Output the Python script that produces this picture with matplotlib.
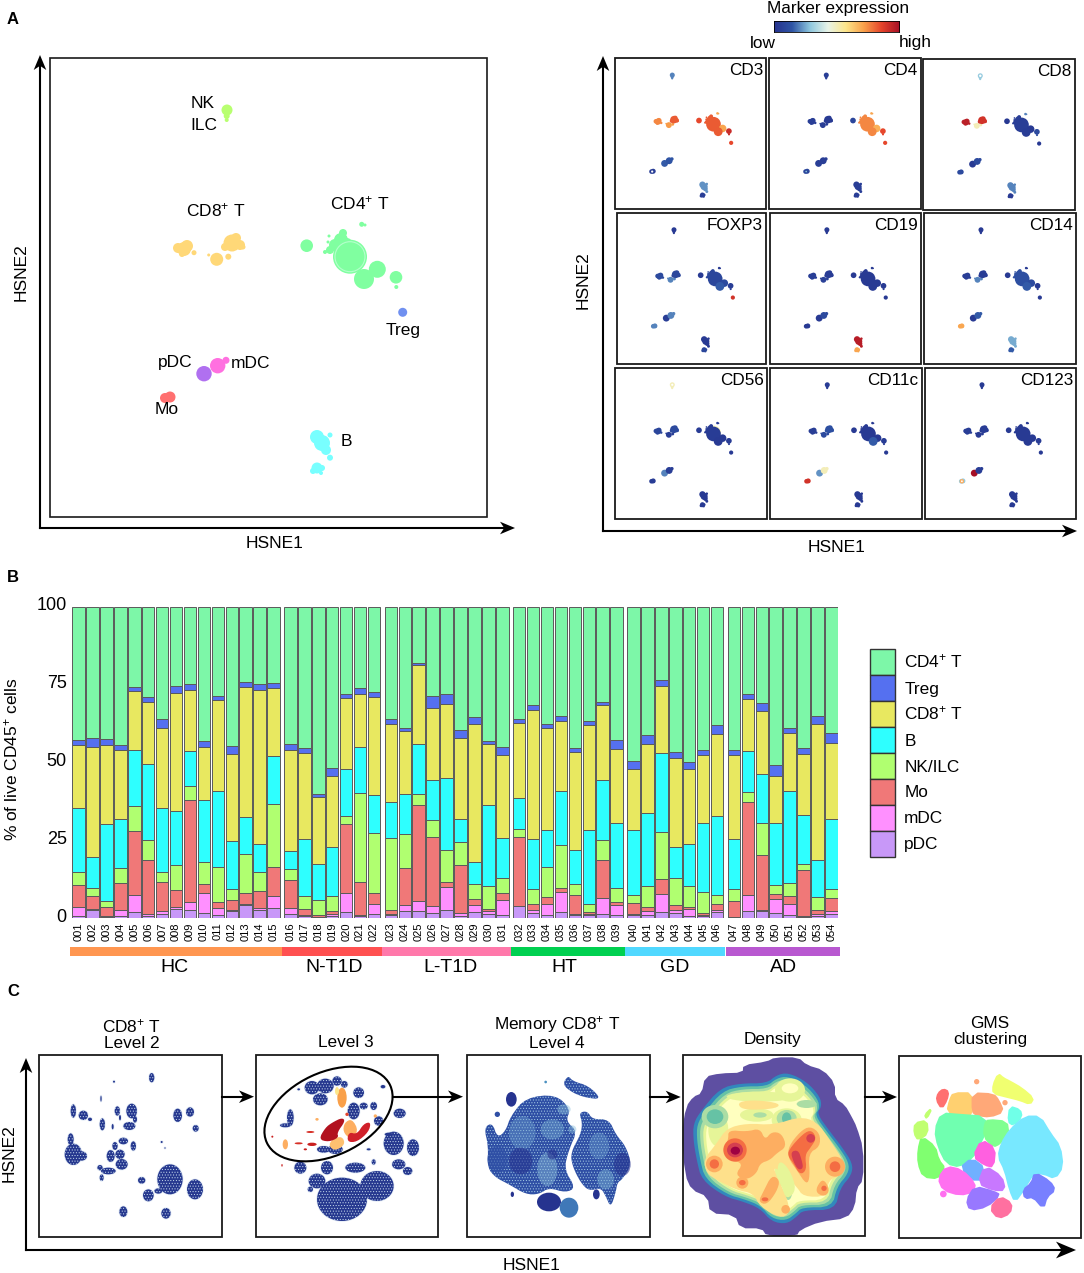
"""Immune cell atlas figure: HSNE maps, composition bars and the CD8 T drill-down."""

import matplotlib

matplotlib.use("Agg")
import matplotlib.pyplot as plt
import numpy as np
from matplotlib.colors import LinearSegmentedColormap
from matplotlib.patches import Circle, Ellipse, Polygon, Rectangle
from matplotlib.transforms import ScaledTranslation

plt.rcParams["font.family"] = ["Liberation Sans", "DejaVu Sans"]
plt.rcParams["mathtext.fontset"] = "custom"
plt.rcParams["mathtext.rm"] = "Liberation Sans"
plt.rcParams["mathtext.default"] = "regular"
plt.rcParams["hatch.linewidth"] = 0.4

WIDTH, HEIGHT = 1084, 1273

# =========================
# Panel A data
# =========================
# blob positions and radii on the big map, in reference pixels
blob_x = [227, 226.7, 226.7, 184, 178, 187, 182, 194, 216.7, 228.3, 208.7, 232, 225, 240, 243, 236,
          306.7, 350, 343, 341, 347, 335, 330, 325, 377.3, 364, 396, 396.3, 361.7, 365, 329, 328,
          402.7, 204, 217.7, 226, 165, 170, 172,
          317, 322, 326, 330, 330, 317, 322, 313, 321]
blob_y = [110, 116, 120, 249, 248, 246, 254, 252.7, 259.3, 256.7, 255, 243, 247, 245, 247, 238,
          245.7, 256.7, 233, 240, 243, 245, 250, 252, 269.3, 279, 277.3, 287, 224.3, 225, 236, 242,
          312.3, 373.7, 365.7, 360.3, 398, 397, 399,
          437, 443, 450, 435, 457.7, 468, 468, 471, 473]
blob_r = [5.5, 3, 2, 7, 5, 6, 3, 2.5, 6.5, 3, 1.5, 8.5, 4, 5, 2.5, 5,
          6.3, 17, 4, 7, 5, 6, 4, 2, 8.5, 10, 6.3, 2, 2.5, 1.5, 1.5, 1.5,
          4.5, 7.7, 7.7, 3.5, 5, 5.5, 2.5,
          7, 8, 5, 2.5, 3, 5.5, 3, 3, 2]
blob_cluster = [0, 0, 0, 1, 1, 1, 1, 1, 3, 3, 3, 2, 2, 2, 2, 2,
                4, 5, 5, 5, 5, 5, 5, 5, 7, 8, 9, 9, 6, 6, 5, 5,
                10, 11, 12, 12, 13, 13, 13,
                14, 14, 14, 14, 14, 15, 15, 15, 15]

cluster_colors = ["#b8ff70", "#ffd878", "#ffd878", "#ffd878", "#80ffa0", "#80ffa0", "#80ffa0", "#80ffa0",
                  "#80ffa0", "#80ffa0", "#7090f0", "#b070f0", "#ff70e0", "#ff7070", "#78ffff", "#78ffff"]

marker_names = ["CD3", "CD4", "CD8", "FOXP3", "CD19", "CD14", "CD56", "CD11c", "CD123"]
# expression per cluster (NK, CD8 x3, CD4 x6, Treg, pDC, mDC, Mo, B x2), 0 low to 1 high
expr_cd3 = [.2, .75, .82, .72, .85, .82, .7, .7, .82, .92, .85, .15, .14, .05, .22, .05]
expr_cd4 = [.05, .05, .03, .05, .08, .75, .7, .68, .75, .85, .85, .05, .05, .08, .05, .04]
expr_cd8 = [.3, .95, .9, .5, .02, .05, .2, .03, .04, .1, .02, .03, .1, .1, .2, .03]
expr_foxp3 = [.03, .1, .08, .2, .03, .08, .03, .1, .15, .05, .9, .05, .2, .2, .03, .08]
expr_cd19 = [.03, .05, .04, .06, .03, .03, .03, .03, .03, .03, .03, .03, .1, .03, .96, .7]
expr_cd14 = [.03, .05, .04, .2, .03, .12, .03, .1, .15, .03, .03, .03, .15, .7, .25, .15]
expr_cd56 = [.5, .08, .1, .05, .04, .04, .04, .03, .03, .04, .03, .2, .05, .04, .03, .03]
expr_cd11c = [.04, .05, .12, .1, .03, .03, .03, .03, .15, .04, .03, .22, .5, .9, .03, .03]
expr_cd123 = [.03, .05, .04, .03, .03, .03, .03, .03, .03, .04, .03, 1.0, .05, .3, .03, .03]
marker_expr = [expr_cd3, expr_cd4, expr_cd8, expr_foxp3, expr_cd19, expr_cd14, expr_cd56, expr_cd11c, expr_cd123]

# halo and hollow spots on single marker maps: panel, x, y on the big map, radius, colour, above blobs
extra_panel = [6, 6, 0, 1, 8, 8, 2]
extra_x = [350, 227, 167, 167, 167, 167, 227]
extra_y = [254, 110, 398, 398, 398, 398, 110]
extra_r = [7.5, 1.1, 1.1, 0.8, 2.2, 0.9, 1.2]
extra_c = ["#fbf6b4", "#ffffff", "#ffffff", "#8ec7de", "#fdae61", "#ffffff", "#ffffff"]
extra_top = [False, True, True, True, True, True, True]

# =========================
# Panel B data: upper edge of each stacked layer
# =========================
sample_ids = [f"{i:03d}" for i in range(1, 55)]
group_names = ["HC", "N-T1D", "L-T1D", "HT", "GD", "AD"]
group_sizes = [15, 7, 9, 8, 7, 8]
group_colors = ["#ff9650", "#ff5050", "#ff78aa", "#00d050", "#50d8ff", "#b858d0"]

pdc_top = [0.8, 2.6, 0.3, 0.7, 2, 0.6, 1.4, 3, 2.8, 1.6, 1, 2.3, 4.3, 2.8, 3.3,
           1.5, 0.7, 0.2, 0.8, 2, 0.6, 1.5,
           1, 2.4, 2.5, 1.6, 2.8, 0.8, 2, 1.4, 1,
           4, 1.8, 0.9, 2, 1, 1, 1.5, 0.9,
           1, 1.2, 2, 1.6, 0.6, 0.7, 2,
           0.4, 2.2, 2.4, 1.6, 1, 0.4, 0.7, 1.4]
mdc_top = [3.7, 3, 0.6, 2.6, 7.6, 1.5, 2.5, 3.6, 5.2, 8, 3.2, 2.6, 4.7, 3.2, 7,
           3.2, 1, 0.4, 1.5, 8.1, 0.9, 4.5,
           1.4, 4.2, 5.6, 4, 10, 1.6, 4.2, 2.4, 6,
           4.1, 2.6, 4.5, 8.6, 1.5, 1.5, 6.6, 4.2,
           1.3, 2.2, 7.7, 2.8, 3, 1.2, 2.6,
           0.5, 7.5, 2.8, 6.2, 4.7, 0.7, 1.4, 2.4]
mo_top = [10.8, 7.2, 3.5, 11.4, 28, 18.7, 11.5, 9.2, 38, 11, 5.3, 5.8, 8.2, 8.7, 16.5,
          12.3, 3, 1, 2.2, 30.4, 11.6, 8,
          2.7, 16, 36.3, 26, 11.8, 17, 6.2, 3, 8,
          26.2, 4.5, 6.8, 9.7, 7.5, 2, 18.7, 5.2,
          4.8, 3.6, 12.7, 4.2, 3.6, 1.6, 4.6,
          5.6, 37.2, 20.3, 7.8, 7.1, 15.5, 2.6, 6.6]
nk_top = [15, 9.7, 5.7, 16, 36, 25, 15, 17, 42.5, 18.2, 16.5, 9.4, 20.6, 15, 36.6,
          15.7, 7, 6, 7, 32.7, 40.2, 27.3,
          25.7, 27.2, 40, 31.5, 22, 24.5, 11, 10.4, 13,
          28.6, 9.5, 16.5, 23.5, 11, 4.6, 25, 9.8,
          7.4, 10.3, 27.8, 12.8, 10.3, 8.4, 7.4,
          9.4, 40.5, 30.5, 10.7, 11.2, 17.4, 6.8, 9.3]
b_top = [35.5, 19.8, 30.2, 32, 54, 49.5, 35.5, 34.5, 53.8, 38, 41, 24.8, 32.4, 24, 52.2,
         21.7, 25.5, 17.5, 23, 48, 55, 39.5,
         37.3, 39.8, 56, 44.5, 45, 32, 18, 36.3, 25.7,
         38.7, 25.3, 28.2, 40.8, 22, 28.3, 44.3, 30.5,
         28.3, 33.7, 53, 22.8, 23.7, 30.6, 32.7,
         25.6, 53.8, 46.4, 30.6, 41, 33, 18.6, 31.8]
cd8_top = [55.5, 55, 55.5, 54, 73, 69.5, 61, 72.3, 73.3, 55, 70, 52.7, 74.2, 73.3, 74,
           54, 53, 39, 45.7, 70.6, 72, 71,
           62.3, 60, 81.2, 67.5, 68.8, 58, 62.5, 55.8, 52.3,
           62.7, 67, 61.1, 63.3, 53.4, 62, 68.6, 54.3,
           47.8, 56, 74.5, 51.3, 48, 52.3, 59,
           52.3, 70.5, 66.4, 45.7, 59.5, 52.6, 62.5, 56.3]
treg_top = [57.3, 57.8, 57.5, 55.5, 74.2, 71, 64, 74.5, 75.3, 57, 71.5, 55.3, 75.8, 75.3, 75.6,
            56, 54.5, 40, 48.3, 72, 74, 72.7,
            64, 61, 82, 71.3, 72, 60.3, 64.5, 57, 55,
            64, 68.5, 62.5, 65, 54.5, 63.3, 69.5, 57.2,
            50.6, 58.7, 76.5, 53.5, 50.3, 54, 62,
            54, 72, 69, 49.2, 61, 54.5, 65, 59.6]
cd4_top = [100] * 54

layer_names = ["pDC", "mDC", "Mo", "NK/ILC", "B", "CD8$^{+}$ T", "Treg", "CD4$^{+}$ T"]
layer_tops = [pdc_top, mdc_top, mo_top, nk_top, b_top, cd8_top, treg_top, cd4_top]
layer_colors = ["#c898f8", "#ff90ff", "#f07878", "#b0ff70", "#2effff", "#e8e860", "#5570f0", "#7df7a8"]

# =========================
# Panel C data, all in 3x crops of the reference
# =========================
# Level 2 clouds: x, y, half width, half height
level2_x = [335, 222, 183, 100, 130, 150, 232, 275, 240, 268, 285, 187, 218, 413, 450, 467, 365, 375,
            92, 100, 125, 250, 225, 212, 240, 280, 245, 205, 180, 185, 305, 390, 355, 325, 465, 250, 378]
level2_y = [65, 77, 128, 165, 178, 190, 165, 165, 185, 210, 190, 205, 212, 178, 168, 217, 258, 276,
            250, 295, 300, 255, 270, 300, 295, 270, 325, 345, 335, 365, 373, 370, 405, 418, 400, 467, 472]
level2_w = [8, 3, 2, 8, 14, 6, 8, 16, 3, 18, 6, 8, 3, 13, 12, 9, 3, 2,
            9, 26, 16, 14, 8, 12, 14, 8, 18, 22, 8, 6, 11, 38, 12, 16, 24, 12, 14]
level2_h = [14, 3, 9, 20, 14, 5, 14, 22, 8, 12, 10, 18, 8, 20, 14, 10, 3, 2,
            18, 32, 14, 10, 12, 18, 14, 14, 16, 10, 8, 10, 10, 45, 8, 18, 30, 16, 16]

# Level 3 clouds
level3_x = [165, 205, 190, 240, 262, 305, 290, 320, 350, 365, 100, 85, 125, 378, 200, 235,
            428, 410, 468, 425, 452, 130, 210, 295, 180, 160, 255, 360, 350, 335, 395]
level3_y = [95, 90, 130, 75, 85, 110, 165, 150, 150, 195, 185, 208, 100, 92, 280, 280,
            172, 262, 275, 325, 345, 335, 335, 335, 375, 400, 430, 390, 318, 280, 235]
level3_w = [22, 25, 22, 14, 10, 16, 18, 12, 10, 14, 10, 16, 4, 7, 20, 22,
            18, 30, 18, 20, 14, 18, 18, 30, 25, 8, 75, 50, 6, 6, 12]
level3_h = [20, 22, 18, 14, 10, 16, 25, 10, 12, 14, 25, 6, 3, 5, 10, 14,
            14, 35, 25, 15, 12, 18, 20, 15, 22, 8, 65, 45, 8, 3, 5]
# hot masses of the gate
hot_masses = [
    ("#fdc070", [(225, 250), (255, 240), (265, 265), (235, 285), (215, 270)]),
    ("#fdae61", [(262, 200), (285, 188), (305, 225), (280, 250), (258, 228)]),
    ("#b2121f", [(185, 250), (205, 215), (225, 200), (255, 185), (265, 195), (240, 230), (245, 245), (215, 258)]),
    ("#d0202a", [(270, 258), (300, 258), (335, 228), (342, 198), (320, 203), (300, 235), (275, 228)]),
]
# smaller hot spots: x, y, half width, half height, colour
hot_x = [165, 125, 160, 145, 255, 240, 85, 46, 75, 270, 355, 180]
hot_y = [265, 262, 228, 280, 125, 105, 265, 242, 328, 175, 180, 190]
hot_w = [14, 12, 12, 5, 14, 6, 8, 3, 2, 5, 5, 5]
hot_h = [5, 3, 3, 3, 30, 12, 15, 3, 4, 5, 5, 4]
hot_c = ["#c9201f", "#d73027", "#d73027", "#c9201f", "#f9a04a", "#fde68a", "#fdae61", "#c9201f", "#c9201f",
         "#e5432b", "#fdae61", "#fdae61"]

# Level 4 outlines
level4_left = [(45, 215), (70, 200), (85, 245), (110, 225), (125, 180), (170, 125), (260, 115), (305, 160), (290, 195),
               (325, 225), (300, 280), (285, 340), (320, 395), (290, 410), (240, 395), (210, 415), (170, 415),
               (120, 385), (80, 365), (55, 335), (58, 270)]
level4_right = [(330, 170), (355, 165), (370, 190), (420, 190), (440, 235), (470, 270), (488, 325), (460, 370),
                (445, 380), (440, 410), (425, 455), (410, 420), (395, 395), (360, 405), (335, 380), (310, 330),
                (305, 290), (335, 235), (340, 200)]
level4_top = [(298, 58), (310, 75), (360, 90), (398, 130), (350, 125), (310, 110), (280, 85)]
level4_patch_x = [160, 250, 235, 285, 390, 410, 310, 460, 85, 155, 250, 127, 240, 300, 382, 85, 230, 130]
level4_patch_y = [230, 220, 340, 160, 270, 370, 220, 325, 310, 315, 295, 130, 438, 455, 415, 175, 78, 415]
level4_patch_w = [40, 35, 30, 20, 30, 25, 12, 25, 30, 35, 15, 16, 36, 28, 10, 8, 4, 5]
level4_patch_h = [50, 30, 50, 15, 40, 30, 12, 35, 40, 40, 15, 22, 28, 30, 15, 8, 4, 8]
level4_patch_c = ["#6fa3d0", "#7fb8d8", "#8cc0dc", "#8cc0dc", "#6fa3d0", "#7fb8d8", "#8cc0dc", "#26338f", "#2f4fa5",
                  "#26338f", "#26338f", "#26338f", "#26338f", "#3f78b8", "#26338f", "#2f4fa5", "#4a90c0", "#26338f"]
level4_patch_a = [.4, .4, .45, .45, .4, .45, .45, .6, .6, .6, .6, 1, 1, 1, 1, 1, 1, 1]

# Density bands
density_outline = [(250, 195), (320, 185), (345, 172), (415, 172), (440, 195), (490, 210), (525, 250), (525, 295),
                   (555, 315), (575, 350), (590, 380), (610, 445), (610, 540), (590, 565), (585, 620), (560, 655),
                   (480, 665), (420, 690), (410, 708), (320, 708), (305, 685), (240, 685), (225, 645), (150, 640),
                   (143, 590), (95, 570), (75, 525), (65, 400), (78, 320), (100, 290), (125, 280), (135, 230),
                   (180, 220), (248, 218)]
density_rim = [(100, 370), (125, 330), (180, 265), (240, 250), (320, 250), (350, 225), (385, 218), (440, 245),
               (480, 290), (485, 320), (470, 340), (510, 395), (545, 440), (578, 490), (575, 525), (540, 565),
               (525, 630), (430, 630), (410, 650), (380, 672), (335, 665), (300, 625), (250, 605), (195, 590),
               (125, 540), (110, 480), (100, 420)]
rim_scales = [1.0, 0.955, 0.915, 0.875, 0.84]
rim_colors = ["#3288bd", "#66c2a5", "#abdda4", "#e6f598", "#ffffbf"]
density_regions = [
    ("#fee08b", [(130, 480), (170, 430), (200, 385), (260, 370), (340, 375), (420, 350), (470, 365), (510, 420),
                 (555, 490), (545, 525), (505, 540), (500, 590), (430, 590), (410, 560), (370, 520), (340, 500),
                 (350, 530), (380, 590), (390, 640), (360, 655), (300, 620), (280, 580), (230, 570), (170, 540),
                 (140, 520)]),
    ("#fee08b", [(235, 305), (290, 300), (360, 310), (350, 325), (280, 330), (240, 325)]),
    ("#e6f598", [(360, 480), (390, 510), (410, 570), (380, 600), (365, 560), (350, 510)]),
    ("#fdae61", [(205, 390), (260, 395), (300, 385), (315, 420), (335, 395), (365, 400), (380, 440), (350, 460),
                 (330, 480), (300, 490), (290, 520), (260, 540), (225, 525), (250, 490), (210, 480), (190, 450),
                 (205, 420)]),
    ("#fdae61", [(385, 440), (420, 395), (450, 378), (480, 400), (480, 440), (445, 460), (450, 530), (440, 555),
                 (410, 510), (385, 475)]),
    ("#fdae61", [(335, 525), (360, 540), (350, 575), (320, 615), (295, 605), (310, 575)]),
    ("#fdae61", [(470, 560), (490, 535), (510, 570), (495, 590), (470, 580)]),
    ("#f46d43", [(385, 450), (430, 400), (455, 390), (470, 415), (450, 445), (435, 465), (440, 510), (420, 525),
                 (400, 490), (385, 470)]),
    ("#d53e4f", [(392, 455), (415, 450), (425, 480), (430, 505), (415, 510), (400, 485)]),
]
# round parts of the density map: x, y, half width, half height, colour, in drawing order
spot_x = [175, 290, 380, 370, 300, 390, 165, 380, 300, 440, 385, 165, 380, 385, 390,
          163, 525, 247, 377, 225, 163, 525, 247, 315, 492, 225, 452, 226]
spot_y = [390, 345, 360, 510, 290, 270, 350, 355, 345, 312, 570, 350, 355, 575, 265,
          492, 500, 548, 628, 450, 492, 500, 548, 598, 565, 450, 415, 452]
spot_w = [30, 50, 45, 25, 100, 45, 40, 30, 20, 30, 12, 25, 14, 6, 25,
          25, 30, 18, 13, 35, 14, 16, 10, 10, 8, 24, 13, 14]
spot_h = [50, 20, 35, 50, 15, 35, 35, 25, 8, 12, 30, 22, 18, 14, 15,
          25, 30, 18, 13, 35, 14, 16, 8, 6, 8, 22, 13, 12]
spot_c = ["#e6f598", "#e6f598", "#e6f598", "#e6f598", "#e6f598", "#e6f598", "#abdda4", "#abdda4", "#abdda4", "#abdda4",
          "#abdda4", "#66c2a5", "#66c2a5", "#66c2a5", "#ffffbf",
          "#fdae61", "#fdae61", "#fdae61", "#fdae61", "#f46d43", "#f46d43", "#f46d43", "#f46d43", "#f46d43", "#f46d43",
          "#d53e4f", "#d53e4f", "#9e0142"]

# GMS clusters: outline and colour
gms_clusters = [
    ([(1015, 222), (1030, 235), (1050, 245), (1085, 265), (1120, 295), (1110, 312), (1080, 300), (1040, 290),
      (1000, 280), (1000, 255)], "#f0ff70"),
    ([(850, 268), (865, 275), (860, 300), (845, 325), (830, 300), (835, 280)], "#ff7070"),
    ([(880, 280), (938, 280), (938, 345), (900, 348), (862, 335), (870, 300)], "#ffd070"),
    ([(938, 280), (1000, 283), (1015, 300), (1030, 335), (990, 350), (950, 345), (938, 335)], "#ffa878"),
    ([(815, 325), (800, 355), (795, 345)], "#c0ff70"),
    ([(765, 370), (800, 362), (803, 400), (775, 420), (763, 400)], "#c0ff70"),
    ([(785, 410), (825, 440), (835, 480), (855, 505), (835, 535), (790, 530), (775, 490), (775, 450)], "#80ff70"),
    ([(845, 340), (900, 345), (975, 350), (975, 400), (955, 440), (940, 470), (900, 500), (860, 490), (835, 440),
      (825, 390)], "#70ffb0"),
    ([(985, 360), (1040, 365), (1045, 400), (1020, 430), (1000, 440), (972, 410), (975, 370)], "#80ff90"),
    ([(1050, 320), (1080, 330), (1085, 350), (1060, 375), (1045, 365)], "#70ffe8"),
    ([(1095, 350), (1140, 350), (1170, 400), (1200, 440), (1208, 500), (1185, 535), (1150, 520), (1120, 520),
      (1090, 570), (1065, 605), (1050, 570), (1035, 510), (1015, 470), (1025, 430), (1050, 390)], "#78e8ff"),
    ([(965, 420), (1005, 445), (1000, 500), (975, 495), (940, 470)], "#ff60e0"),
    ([(935, 475), (975, 505), (955, 550), (900, 505)], "#70b0ff"),
    ([(860, 500), (905, 510), (945, 550), (940, 575), (900, 585), (850, 570), (835, 535)], "#ff70f0"),
    ([(975, 498), (1025, 530), (1035, 570), (1000, 570), (955, 550)], "#c878ff"),
    ([(945, 560), (1000, 575), (1020, 585), (980, 620), (930, 630), (920, 600)], "#9878ff"),
    ([(1020, 590), (1055, 610), (1050, 640), (1015, 655), (990, 625)], "#ff70a0"),
    ([(1125, 518), (1170, 545), (1185, 570), (1160, 590), (1150, 625), (1120, 590), (1095, 595), (1090, 570),
      (1115, 550)], "#7880ff"),
]
gms_dot_x = [950, 850, 1035]
gms_dot_y = [245, 582, 308]
gms_dot_r = [8, 10, 8]
gms_dot_c = ["#ffa878", "#ff70f0", "#ffa878"]

marker_cmap = LinearSegmentedColormap.from_list(
    "marker",
    ["#26338f", "#2f55a5", "#8ec7de", "#e8f4e8", "#fde68a", "#f9a04a", "#e5432b", "#a50f26"],
)


def crop_xy(origin, points):
    """Crop coordinates (3x) to figure pixels."""
    return np.asarray(points, float) / 3.0 + np.asarray(origin, float)


def smooth(points, rounds=2):
    """Chaikin corner cutting for a closed outline."""
    pts = np.asarray(points, float)
    for _ in range(rounds):
        nxt = np.roll(pts, -1, axis=0)
        pts = np.column_stack([0.75 * pts + 0.25 * nxt, 0.25 * pts + 0.75 * nxt]).reshape(-1, 2)
    return pts


def arrow(ax, x0, y0, x1, y1, lw=1.5, head=15):
    start = np.array([x0, y0], float)
    tip = np.array([x1, y1], float)
    unit = (tip - start) / np.hypot(*(tip - start))
    normal = np.array([-unit[1], unit[0]])
    end = tip - unit * head * 0.6
    ax.plot([x0, end[0]], [y0, end[1]], color="black", lw=lw, solid_capstyle="projecting", zorder=8)
    head_pts = [tip, tip - unit * head + normal * head * 0.42, tip - unit * head * 0.72,
                tip - unit * head - normal * head * 0.42]
    ax.add_patch(Polygon(head_pts, closed=True, fc="black", ec="none", zorder=9))


def frame(ax, x0, y0, x1, y1, lw=1.2, color="#1a1a1a"):
    ax.add_patch(Rectangle((x0, y0), x1 - x0, y1 - y0, fc="none", ec=color, lw=lw, zorder=7))


def draw_panel_a(ax, fig):
    frame(ax, 50, 58, 487, 517)
    arrow(ax, 40, 528, 40, 55)
    arrow(ax, 40, 528, 515, 528)
    ax.text(21, 272, "HSNE2", rotation=90, ha="center", va="center", fontsize=12.5)
    ax.text(275, 544, "HSNE1", ha="center", va="center", fontsize=12.5)

    for x, y, r, c in zip(blob_x, blob_y, blob_r, blob_cluster):
        ax.add_patch(Circle((x, y), r, fc=cluster_colors[c], ec="none", zorder=3))
    ax.add_patch(Circle((350, 256.7), 15, fc="none", ec="#b4ffcc", lw=0.8, zorder=4))

    names = [("NK", 203, 103), ("ILC", 204, 125), ("CD8$^{+}$ T", 216, 210), ("CD4$^{+}$ T", 360, 203),
             ("Treg", 403, 331), ("pDC", 175, 363), ("mDC", 251, 363), ("Mo", 167, 410), ("B", 346, 441)]
    for label, x, y in names:
        ax.text(x, y, label, ha="center", va="center", fontsize=12.5, zorder=4)

    arrow(ax, 603, 531, 603, 56)
    arrow(ax, 603, 531, 1077, 531)
    ax.text(583, 280, "HSNE2", rotation=90, ha="center", va="center", fontsize=12.5)
    ax.text(837, 548, "HSNE1", ha="center", va="center", fontsize=12.5)

    panel_left = [615, 769, 923, 616.7, 769.6, 923.7, 615, 770, 924.7]
    panel_right = [766, 920.7, 1075, 766, 920.7, 1075.7, 766.7, 921.7, 1076]
    panel_top = [58, 58, 58.7, 212.7, 212.7, 212.7, 367.7, 367.7, 367.7]
    panel_bottom = [209, 209, 210, 364, 364, 364, 519.3, 519.3, 519.3]

    def to_panel(i, x, y):
        return panel_left[i] + 0.335 * (x - 56), panel_top[i] + 0.335 * (y - 59)

    for i, name in enumerate(marker_names):
        frame(ax, panel_left[i], panel_top[i], panel_right[i], panel_bottom[i], lw=1.3)
        ax.text(panel_right[i] - 3, panel_top[i] + 12.5, name, ha="right", va="center", fontsize=12.3, zorder=6)
        for x, y, r, c in zip(blob_x, blob_y, blob_r, blob_cluster):
            color = marker_cmap(marker_expr[i][c])
            ax.add_patch(Circle(to_panel(i, x, y), r * 0.42 + 0.2, fc=color, ec="none", zorder=3))

    for i, x, y, r, color, on_top in zip(extra_panel, extra_x, extra_y, extra_r, extra_c, extra_top):
        ax.add_patch(Circle(to_panel(i, x, y), r, fc=color, ec="none", zorder=4 if on_top else 2))

    gradient = np.linspace(0, 1, 256).reshape(1, -1)
    cax = fig.add_axes([774 / WIDTH, 1 - 31.7 / HEIGHT, 125.3 / WIDTH, 11 / HEIGHT])
    cax.imshow(gradient, aspect="auto", cmap=marker_cmap)
    cax.set_xticks([])
    cax.set_yticks([])
    for spine in cax.spines.values():
        spine.set_linewidth(0.6)
    ax.text(838.5, 9, "Marker expression", ha="center", va="center", fontsize=12.4)
    ax.text(763, 44, "low", ha="center", va="center", fontsize=12.4)
    ax.text(915, 43, "high", ha="center", va="center", fontsize=12.4)


def draw_panel_b(ax, fig):
    left, right, top, bottom = 72.3, 837.7, 606.7, 918.3
    bar_ax = fig.add_axes([left / WIDTH, 1 - bottom / HEIGHT, (right - left) / WIDTH, (bottom - top) / HEIGHT])
    groups = np.repeat(np.arange(len(group_sizes)), group_sizes)
    positions = np.arange(len(sample_ids)) + 0.21 * groups

    lower = np.zeros(len(sample_ids))
    handles = []
    for name, tops, color in zip(layer_names, layer_tops, layer_colors):
        upper = np.asarray(tops, float)
        bars = bar_ax.bar(positions, upper - lower, bottom=lower, width=0.9, color=color, edgecolor="#5a5a5a",
                          linewidth=0.7, label=name)
        handles.append(bars)
        lower = upper

    bar_ax.set_xlim(-0.45, 54.5)
    bar_ax.set_ylim(0, 100)
    bar_ax.set_yticks([0, 25, 50, 75, 100])
    bar_ax.set_xticks(positions)
    bar_ax.set_xticklabels(sample_ids, rotation=90, fontsize=8)
    bar_ax.tick_params(axis="both", length=0)
    bar_ax.tick_params(axis="y", labelsize=13, pad=4)
    bar_ax.tick_params(axis="x", pad=3)
    lift = ScaledTranslation(0, 2.7 / 100, fig.dpi_scale_trans)
    for label in bar_ax.get_yticklabels():
        label.set_transform(label.get_transform() + lift)
    for spine in bar_ax.spines.values():
        spine.set_visible(False)
    bar_ax.patch.set_alpha(0)
    bar_ax.set_ylabel("% of live CD45$^{+}$ cells", fontsize=12.5)
    bar_ax.yaxis.set_label_coords(-0.0683, 0.511)

    # group strip under the sample ids
    strip = bar_ax.get_xaxis_transform()
    label_shift = [-0.14, 0.14, 0.28, -0.28, -0.07, 0.07]
    first = 0
    for name, size, color, shift in zip(group_names, group_sizes, group_colors, label_shift):
        x0 = positions[first] - 0.6
        x1 = positions[first + size - 1] + 0.6
        bar_ax.add_patch(Rectangle((x0, -0.1194), x1 - x0, 0.0273, transform=strip, fc=color, ec="none",
                                   clip_on=False))
        bar_ax.text((x0 + x1) / 2 + shift, -0.157, name, transform=strip, ha="center", va="center", fontsize=14,
                    clip_on=False)
        first += size

    bar_ax.legend(handles[::-1], layer_names[::-1], loc="upper left", bbox_to_anchor=(870, 649.3),
                  bbox_transform=ax.transData, frameon=False, fontsize=12.4, handlelength=1.45, handleheight=1.94,
                  labelspacing=0, handletextpad=0.54, borderpad=0, borderaxespad=0)
    for handle in bar_ax.get_legend().legend_handles:
        handle.set_edgecolor("#333333")
        handle.set_linewidth(1.0)


def draw_cloud(ax, origin, xs, ys, ws, hs, color="#26388f", speck="#c8dcee", z=3):
    for x, y, w, h in zip(xs, ys, ws, hs):
        center = crop_xy(origin, (x, y))
        ax.add_patch(Ellipse(center, 2 * w / 3 + 1.6, 2 * h / 3 + 1.6, fc="#b9cfe8", ec="none", alpha=0.35, zorder=z))
        hatch = "......" if min(w, h) > 5 else None
        ax.add_patch(Ellipse(center, 2 * w / 3, 2 * h / 3, fc=color, ec=speck, hatch=hatch, lw=0, zorder=z + 0.1))


def draw_density(ax, origin):
    outer = smooth(crop_xy(origin, density_outline), rounds=1)
    ax.add_patch(Polygon(outer, closed=True, fc="#5e4fa2", ec="none", zorder=3))
    rim = crop_xy(origin, density_rim)
    center = crop_xy(origin, (340, 450))
    for scale, color in zip(rim_scales, rim_colors):
        ax.add_patch(Polygon(smooth(center + (rim - center) * scale), closed=True, fc=color, ec="none", zorder=3.1))

    # the pale round parts stay under the big regions
    n_pale = 15
    z = 3.2
    for x, y, w, h, c in list(zip(spot_x, spot_y, spot_w, spot_h, spot_c))[:n_pale]:
        ax.add_patch(Ellipse(crop_xy(origin, (x, y)), 2 * w / 3, 2 * h / 3, fc=c, ec="none", zorder=z))
        z += 0.001
    for color, outline in density_regions:
        z += 0.001
        ax.add_patch(Polygon(smooth(crop_xy(origin, outline)), closed=True, fc=color, ec="none", zorder=z))
    for x, y, w, h, c in list(zip(spot_x, spot_y, spot_w, spot_h, spot_c))[n_pale:]:
        z += 0.001
        ax.add_patch(Ellipse(crop_xy(origin, (x, y)), 2 * w / 3, 2 * h / 3, fc=c, ec="none", zorder=z))


def draw_panel_c(ax):
    frame_left = [39.1, 255.9, 467.2, 682.7, 898.7]
    frame_right = [221.8, 438, 650, 864.7, 1080.7]
    frame_top = [1055, 1054.7, 1054.7, 1055, 1056]
    frame_bottom = [1237, 1236.7, 1236.7, 1236.3, 1237.7]
    for x0, x1, y0, y1 in zip(frame_left, frame_right, frame_top, frame_bottom):
        frame(ax, x0, y0, x1, y1, lw=1.3)

    arrow(ax, 26, 1250, 26, 1058)
    arrow(ax, 26, 1250, 1076, 1250, head=20)
    ax.text(9, 1153, "HSNE2", rotation=90, ha="center", va="center", fontsize=12.5)
    ax.text(532, 1265, "HSNE1", ha="center", va="center", fontsize=12.5)

    arrow(ax, 221.8, 1096.7, 254, 1096.7)
    arrow(ax, 393.5, 1096.7, 463, 1096.7)
    arrow(ax, 650, 1097, 680.7, 1097)
    arrow(ax, 865, 1097, 897, 1097)

    titles = [("CD8$^{+}$ T\nLevel 2", 132, 1051), ("Level 3", 345.5, 1050), ("Memory CD8$^{+}$ T\nLevel 4", 557, 1051),
              ("Density", 772, 1047), ("GMS\nclustering", 990, 1047)]
    for label, x, y in titles:
        ax.text(x, y, label, ha="center", va="bottom", fontsize=12.4, linespacing=1.05)

    draw_cloud(ax, (40, 1056), level2_x, level2_y, level2_w, level2_h)

    level3_origin = (257, 1056)
    draw_cloud(ax, level3_origin, level3_x, level3_y, level3_w, level3_h)
    for color, outline in hot_masses:
        ax.add_patch(Polygon(smooth(crop_xy(level3_origin, outline)), closed=True, fc=color, ec="none", zorder=4))
    for x, y, w, h, c in zip(hot_x, hot_y, hot_w, hot_h, hot_c):
        ax.add_patch(Ellipse(crop_xy(level3_origin, (x, y)), 2 * w / 3, 2 * h / 3, fc=c, ec="none", zorder=4))
    ax.add_patch(Ellipse((328.5, 1114), 136, 83, angle=-25, fc="none", ec="black", lw=1.5, zorder=6))

    level4_origin = (469, 1056)
    for outline in (level4_left, level4_right, level4_top):
        pts = smooth(crop_xy(level4_origin, outline))
        ax.add_patch(Polygon(pts, closed=True, fc="#2f4fa5", ec="#a8cfe6", hatch="......", lw=0, zorder=3))
    for x, y, w, h, c, a in zip(level4_patch_x, level4_patch_y, level4_patch_w, level4_patch_h, level4_patch_c,
                                level4_patch_a):
        ax.add_patch(Ellipse(crop_xy(level4_origin, (x, y)), 2 * w / 3, 2 * h / 3, fc=c, ec="none", alpha=a, zorder=4))

    density_origin = (660, 1000)
    draw_density(ax, density_origin)

    for outline, color in gms_clusters:
        pts = smooth(crop_xy(density_origin, outline), rounds=1)
        ax.add_patch(Polygon(pts, closed=True, fc=color, ec=color, lw=1.6, joinstyle="round", zorder=3))
    for x, y, r, c in zip(gms_dot_x, gms_dot_y, gms_dot_r, gms_dot_c):
        ax.add_patch(Circle(crop_xy(density_origin, (x, y)), r / 3, fc=c, ec="none", zorder=3))


def main():
    fig = plt.figure(figsize=(WIDTH / 100, HEIGHT / 100), dpi=100, facecolor="white")
    ax = fig.add_axes([0, 0, 1, 1])
    ax.set_xlim(0, WIDTH)
    ax.set_ylim(HEIGHT, 0)
    ax.axis("off")

    for letter, y in (("A", 19), ("B", 578), ("C", 992)):
        ax.text(7, y, letter, fontsize=12, fontweight="bold", ha="left", va="center")

    draw_panel_a(ax, fig)
    draw_panel_b(ax, fig)
    draw_panel_c(ax)

    fig.savefig("out.png", dpi=100)
    plt.close(fig)


if __name__ == "__main__":
    main()
